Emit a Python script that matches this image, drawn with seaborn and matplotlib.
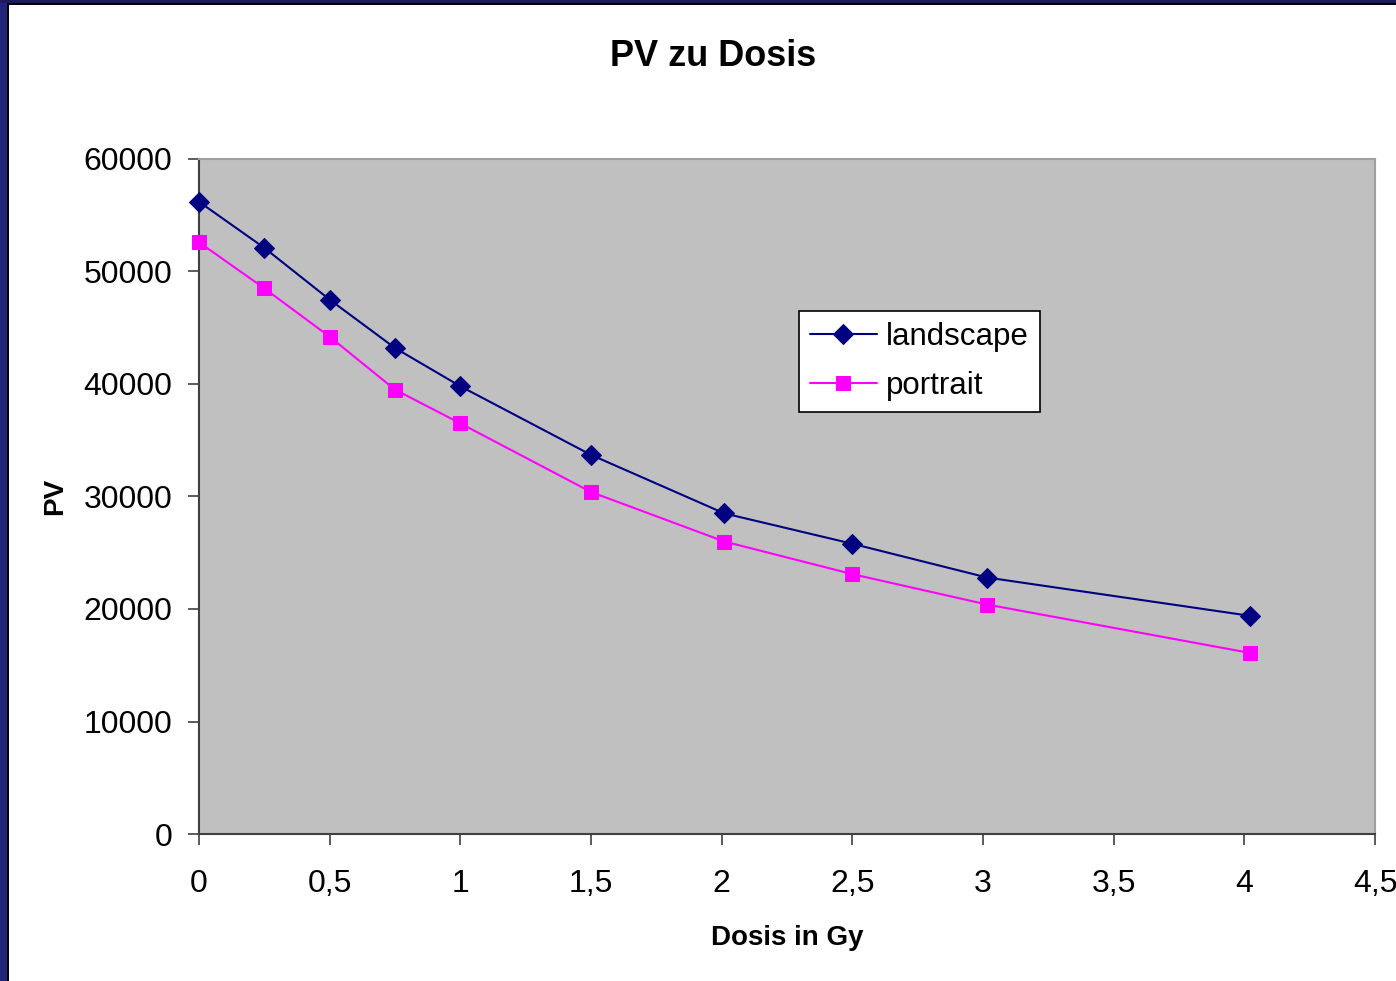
import matplotlib
matplotlib.use("Agg")
import matplotlib.pyplot as plt
import seaborn as sns
import pandas as pd
from matplotlib.patches import Rectangle
from matplotlib.ticker import FuncFormatter

# Data
dose_gy = [0.0, 0.25, 0.5, 0.75, 1.0, 1.5, 2.01, 2.5, 3.015, 4.02]
landscape_pv = [56200, 52100, 47500, 43200, 39800, 33700, 28500, 25800, 22800, 19400]
portrait_pv = [52600, 48500, 44200, 39500, 36500, 30400, 26000, 23100, 20400, 16100]
series_names = ["landscape", "portrait"]
x_ticks = [0, 0.5, 1, 1.5, 2, 2.5, 3, 3.5, 4, 4.5]
y_ticks = [0, 10000, 20000, 30000, 40000, 50000, 60000]

df = pd.DataFrame({
    "Dosis": dose_gy * 2,
    "PV": landscape_pv + portrait_pv,
    "Serie": [series_names[0]] * len(dose_gy) + [series_names[1]] * len(dose_gy),
})

sns.set_theme(style="white")
plt.rcParams["font.family"] = ["Liberation Sans", "DejaVu Sans"]
plt.rcParams["text.color"] = "black"
plt.rcParams["axes.labelcolor"] = "black"

fig = plt.figure(figsize=(13.96, 9.81), dpi=100)
fig.patch.set_facecolor("white")
ax = fig.add_axes([199 / 1396, 1 - 834 / 981, (1375 - 199) / 1396, (834 - 159) / 981])
ax.set_facecolor("#C0C0C0")

styles = {
    "landscape": dict(color="#000080", marker="D", markersize=10),
    "portrait": dict(color="#FF00FF", marker="s", markersize=10.5),
}
for name in series_names:
    sub = df[df["Serie"] == name]
    st = styles[name]
    sns.lineplot(data=sub, x="Dosis", y="PV", ax=ax, sort=False, label=name,
                 color=st["color"], marker=st["marker"], markersize=st["markersize"],
                 markeredgecolor=st["color"], markerfacecolor=st["color"],
                 linewidth=1.5, clip_on=False, zorder=3)

ax.set_xlim(0, 4.5)
ax.set_ylim(0, 60000)
ax.set_xticks(x_ticks)
ax.set_yticks(y_ticks)
ax.xaxis.set_major_formatter(FuncFormatter(lambda v, p: f"{v:g}".replace(".", ",")))
ax.yaxis.set_major_formatter(FuncFormatter(lambda v, p: f"{int(v)}"))

ax.tick_params(axis="x", direction="out", length=8, width=1.2, color="#404040",
               labelcolor="black", labelsize=23, pad=17, bottom=True)
ax.tick_params(axis="y", direction="out", length=8, width=1.2, color="#404040",
               labelcolor="black", labelsize=23, pad=11, left=True)

for s in ["left", "bottom"]:
    ax.spines[s].set_color("#404040")
    ax.spines[s].set_linewidth(1.5)
for s in ["top", "right"]:
    ax.spines[s].set_color("#A0A0A0")
    ax.spines[s].set_linewidth(1.5)

ax.set_xlabel("Dosis in Gy", fontsize=20, fontweight="bold", labelpad=19, color="black")
ax.set_ylabel("PV", fontsize=20, fontweight="bold", labelpad=11, color="black")
fig.text(713 / 1396, 1 - 56 / 981, "PV zu Dosis", fontsize=26, fontweight="bold",
         ha="center", va="center", color="black")

leg = ax.legend(loc="upper left", bbox_to_anchor=(0.510, 0.775), borderaxespad=0,
                frameon=True, fancybox=False, fontsize=22.5, handlelength=2.15,
                handletextpad=0.3, borderpad=0.35, labelspacing=0.6)
leg.get_frame().set_edgecolor("black")
leg.get_frame().set_linewidth(1.2)
leg.get_frame().set_facecolor("white")
leg.get_frame().set_alpha(1)
for t in leg.get_texts():
    t.set_color("black")

# slide frame (dark blue border at left and top)
fig.patches.append(Rectangle((0, 0), 7 / 1396, 1, transform=fig.transFigure,
                             facecolor="#23237A", edgecolor="none", zorder=0))
fig.patches.append(Rectangle((7 / 1396, 0), 1.5 / 1396, 1 - 4 / 981, transform=fig.transFigure,
                             facecolor="black", edgecolor="none", zorder=0))
fig.patches.append(Rectangle((0, 1 - 3 / 981), 1, 3 / 981, transform=fig.transFigure,
                             facecolor="#1C1C58", edgecolor="none", zorder=0))
fig.patches.append(Rectangle((7 / 1396, 1 - 4.5 / 981), 1, 1.5 / 981, transform=fig.transFigure,
                             facecolor="black", edgecolor="none", zorder=0))

fig.savefig("out.png", dpi=100)
